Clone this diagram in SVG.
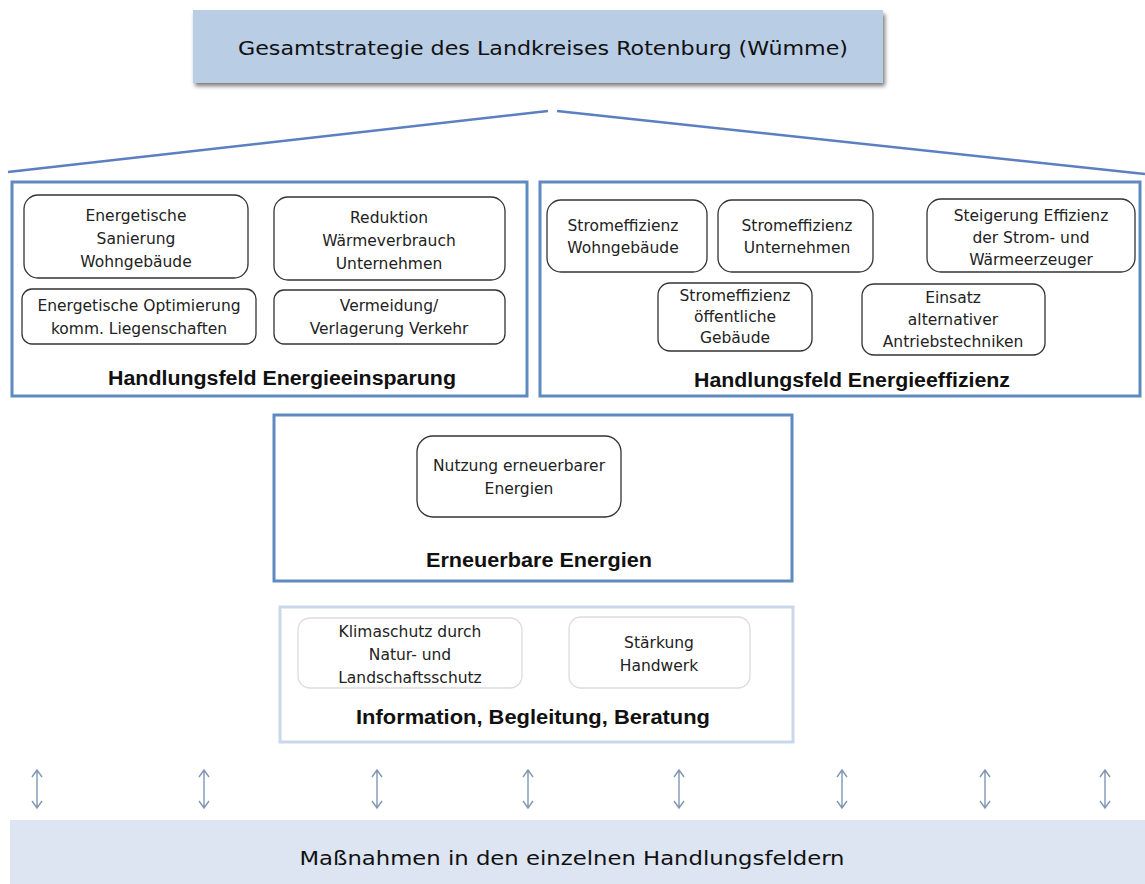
<svg xmlns="http://www.w3.org/2000/svg" width="1145" height="884" viewBox="0 0 1145 884">
<defs>
<filter id="sh" x="-5%" y="-20%" width="110%" height="160%"><feGaussianBlur stdDeviation="2"/></filter>
<g id="dbl"><path d="M0,0 V38 M-5,7 L0,0 L5,7 M-5,31 L0,38 L5,31" fill="none" stroke="#8096b4" stroke-width="1.4"/></g>
</defs>
<style>
.field{fill:#fff;stroke:#5f8ac0;stroke-width:3}
.field2{fill:#fff;stroke:#c9d7ea;stroke-width:3}
.item{fill:#fff;stroke:#333;stroke-width:1.3}
.item2{fill:#fff;stroke:#dcdcdc;stroke-width:1.3}
.t{font-family:"DejaVu Sans",sans-serif;font-size:15.5px;fill:#222;text-anchor:middle}
.h{font-family:"Liberation Sans",sans-serif;font-weight:bold;font-size:20px;fill:#111;text-anchor:middle}
.g{font-family:"DejaVu Sans",sans-serif;font-size:19px;fill:#111;text-anchor:middle}
.conn{stroke:#5b7fc0;stroke-width:2.5;fill:none}
</style>
<rect width="1145" height="884" fill="#fff"/>
<g id="top">
<rect x="195" y="14" width="690" height="72" fill="#555" filter="url(#sh)" opacity="0.8"/>
<rect x="193" y="10" width="690" height="73" fill="#b9cde5"/>
<text class="g" x="543" y="55" textLength="610" lengthAdjust="spacingAndGlyphs">Gesamtstrategie des Landkreises Rotenburg (Wümme)</text>
</g>
<g id="connectors">
<line class="conn" x1="8" y1="172" x2="548" y2="111"/>
<line class="conn" x1="557" y1="111" x2="1145" y2="174"/>
<g id="arrows">
<use href="#dbl" x="37" y="770"/>
<use href="#dbl" x="204" y="770"/>
<use href="#dbl" x="377" y="770"/>
<use href="#dbl" x="528" y="770"/>
<use href="#dbl" x="679" y="770"/>
<use href="#dbl" x="842" y="770"/>
<use href="#dbl" x="985" y="770"/>
<use href="#dbl" x="1105" y="770"/>
</g>
</g>
<g id="einsparung">
<rect class="field" x="12" y="182" width="515" height="214"/>
<g id="e1"><rect class="item" x="24" y="195" width="224" height="83" rx="14"/>
<text class="t" x="136" y="221">Energetische</text><text class="t" x="136" y="244">Sanierung</text><text class="t" x="136" y="267">Wohngebäude</text></g>
<g id="e2"><rect class="item" x="274" y="197" width="231" height="83" rx="14"/>
<text class="t" x="389" y="223">Reduktion</text><text class="t" x="389" y="246">Wärmeverbrauch</text><text class="t" x="389" y="269">Unternehmen</text></g>
<g id="e3"><rect class="item" x="22" y="289" width="234" height="55" rx="10"/>
<text class="t" x="139" y="311">Energetische Optimierung</text><text class="t" x="139" y="334">komm. Liegenschaften</text></g>
<g id="e4"><rect class="item" x="274" y="290" width="231" height="54" rx="10"/>
<text class="t" x="389" y="311">Vermeidung/</text><text class="t" x="389" y="334">Verlagerung Verkehr</text></g>
<text class="h" x="282" y="385" textLength="348" lengthAdjust="spacingAndGlyphs">Handlungsfeld Energieeinsparung</text>
</g>
<g id="effizienz">
<rect class="field" x="540" y="182" width="600" height="214"/>
<g id="f1"><rect class="item" x="547" y="200" width="160" height="72" rx="14"/>
<text class="t" x="623" y="231">Stromeffizienz</text><text class="t" x="623" y="253">Wohngebäude</text></g>
<g id="f2"><rect class="item" x="718" y="200" width="155" height="72" rx="14"/>
<text class="t" x="797" y="231">Stromeffizienz</text><text class="t" x="797" y="253">Unternehmen</text></g>
<g id="f3"><rect class="item" x="927" y="199" width="208" height="73" rx="14"/>
<text class="t" x="1031" y="221">Steigerung Effizienz</text><text class="t" x="1031" y="243">der Strom-  und</text><text class="t" x="1031" y="265">Wärmeerzeuger</text></g>
<g id="f4"><rect class="item" x="658" y="283" width="154" height="68" rx="12"/>
<text class="t" x="735" y="301">Stromeffizienz</text><text class="t" x="735" y="322">öffentliche</text><text class="t" x="735" y="343">Gebäude</text></g>
<g id="f5"><rect class="item" x="862" y="284" width="183" height="71" rx="12"/>
<text class="t" x="953" y="303">Einsatz</text><text class="t" x="953" y="325">alternativer</text><text class="t" x="953" y="347">Antriebstechniken</text></g>
<text class="h" x="852" y="387" textLength="316" lengthAdjust="spacingAndGlyphs">Handlungsfeld Energieeffizienz</text>
</g>
<g id="erneuerbar">
<rect class="field" x="274" y="415" width="518" height="166"/>
<g id="r1"><rect class="item" x="417" y="436" width="204" height="81" rx="16"/>
<text class="t" x="519" y="471">Nutzung erneuerbarer</text><text class="t" x="519" y="494">Energien</text></g>
<text class="h" x="539" y="567" textLength="226" lengthAdjust="spacingAndGlyphs">Erneuerbare Energien</text>
</g>
<g id="information">
<rect class="field2" x="280" y="607" width="513" height="135"/>
<g id="i1"><rect class="item2" x="298" y="618" width="224" height="70" rx="12"/>
<text class="t" x="410" y="637">Klimaschutz durch</text><text class="t" x="410" y="660">Natur- und</text><text class="t" x="410" y="683">Landschaftsschutz</text></g>
<g id="i2"><rect class="item2" x="569" y="617" width="181" height="71" rx="12"/>
<text class="t" x="659" y="648">Stärkung</text><text class="t" x="659" y="671">Handwerk</text></g>
<text class="h" x="533" y="724" textLength="354" lengthAdjust="spacingAndGlyphs">Information, Begleitung, Beratung</text>
</g>
<g id="massnahmen">
<rect x="10" y="820" width="1135" height="64" fill="#dce5f1"/>
<text class="g" x="572" y="865" textLength="545" lengthAdjust="spacingAndGlyphs">Maßnahmen in den einzelnen Handlungsfeldern</text>
</g>
</svg>
